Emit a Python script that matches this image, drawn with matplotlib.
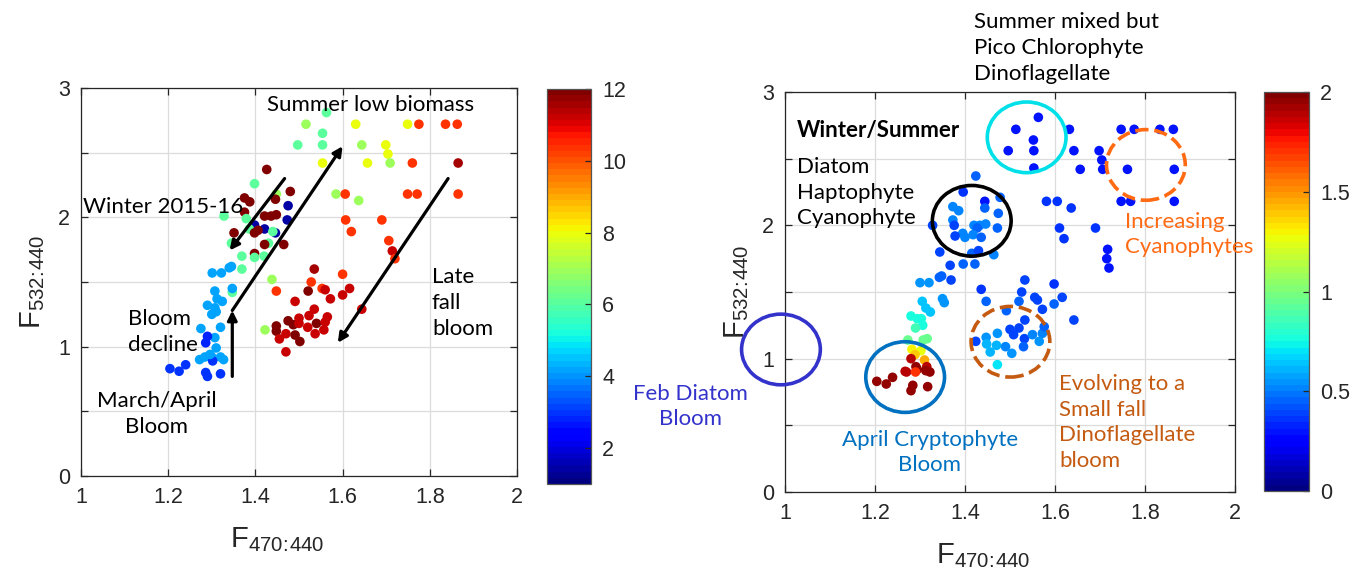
import matplotlib
matplotlib.use('Agg')
import matplotlib.pyplot as plt
import numpy as np
from matplotlib.patches import Ellipse
from matplotlib.ticker import FixedLocator, FuncFormatter

# ---- data ----
# left panel: colour = month
left_x = [1.563, 1.516, 1.630, 1.749, 1.775, 1.836, 1.863, 1.554, 1.497, 1.554,
          1.644, 1.699, 1.704, 1.554, 1.657, 1.709, 1.760, 1.865, 1.426, 1.398,
          1.480, 1.448, 1.375, 1.387, 1.446, 1.475, 1.585, 1.606, 1.637, 1.749,
          1.771, 1.865, 1.328, 1.375, 1.379, 1.421, 1.436, 1.448, 1.473, 1.398,
          1.421, 1.446, 1.386, 1.406, 1.398, 1.440, 1.351, 1.607, 1.690, 1.620,
          1.706, 1.714, 1.720, 1.345, 1.430, 1.421, 1.465, 1.398, 1.398, 1.369,
          1.420, 1.345, 1.340, 1.369, 1.301, 1.322, 1.438, 1.535, 1.600, 1.528,
          1.448, 1.521, 1.553, 1.560, 1.616, 1.600, 1.491, 1.572, 1.644, 1.535,
          1.523, 1.500, 1.475, 1.487, 1.500, 1.540, 1.565, 1.560, 1.557, 1.448,
          1.448, 1.470, 1.520, 1.537, 1.491, 1.502, 1.455, 1.470, 1.422, 1.347,
          1.307, 1.347, 1.312, 1.324, 1.290, 1.307, 1.300, 1.310, 1.275, 1.320,
          1.307, 1.290, 1.286, 1.310, 1.272, 1.284, 1.300, 1.320, 1.327, 1.302,
          1.204, 1.225, 1.240, 1.286, 1.290, 1.320, 1.296]
left_y = [2.81, 2.72, 2.72, 2.72, 2.72, 2.72, 2.72, 2.65, 2.56, 2.56,
          2.56, 2.56, 2.49, 2.42, 2.42, 2.42, 2.42, 2.42, 2.37, 2.26,
          2.20, 2.18, 2.15, 2.12, 2.14, 2.09, 2.18, 2.18, 2.13, 2.18,
          2.18, 2.18, 2.01, 2.04, 1.99, 2.01, 2.01, 2.02, 1.98, 1.94,
          1.91, 1.88, 1.91, 1.90, 1.88, 1.89, 1.88, 1.98, 1.98, 1.89,
          1.82, 1.74, 1.68, 1.80, 1.80, 1.79, 1.79, 1.72, 1.69, 1.70,
          1.70, 1.62, 1.61, 1.60, 1.57, 1.57, 1.52, 1.60, 1.56, 1.50,
          1.43, 1.43, 1.45, 1.44, 1.45, 1.40, 1.35, 1.37, 1.29, 1.29,
          1.24, 1.22, 1.20, 1.17, 1.18, 1.18, 1.23, 1.19, 1.13, 1.16,
          1.12, 1.10, 1.15, 1.10, 1.09, 1.04, 1.06, 0.96, 1.13, 1.42,
          1.43, 1.45, 1.37, 1.35, 1.32, 1.30, 1.25, 1.27, 1.14, 1.15,
          1.07, 1.08, 1.03, 0.99, 0.90, 0.92, 0.92, 0.92, 0.90, 0.89,
          0.83, 0.81, 0.86, 0.80, 0.77, 0.79, 0.94]
left_c = [6, 7, 8, 8, 10.3, 10.3, 10.3, 6, 6, 6,
          7, 8, 8, 8, 8, 7, 10.3, 11.5, 12, 6,
          12, 7, 12, 12, 12, 1.5, 7, 10.3, 7, 10.3,
          10.3, 10.3, 6, 12, 6, 12, 12, 12, 1.5, 1.5,
          1.5, 1.5, 6, 12, 12, 6, 12, 10.3, 10.3, 10.3,
          10.3, 11.3, 10.3, 6, 6, 12, 12, 12, 6, 6,
          6, 4.2, 4.2, 6, 4.2, 4.2, 7, 11.5, 10.3, 10.3,
          10.3, 12, 10.3, 11.3, 11.3, 11.3, 11.3, 11.3, 11.3, 11.3,
          11.3, 11.3, 12, 12, 11.3, 12, 11.3, 11.3, 11.3, 12,
          12, 11.3, 11.3, 11.3, 12, 12, 11.3, 11.3, 7, 6,
          4.2, 4.2, 4.2, 4.2, 4.2, 4.2, 4.2, 4.2, 4.2, 4.2,
          4.2, 2.8, 2.8, 4.2, 4.2, 4.2, 4.2, 4.2, 4.2, 3,
          3, 3, 3, 3, 3, 3, 4.2]

# right panel: colour = second index (0-2)
right_x = [1.563, 1.513, 1.552, 1.496, 1.553, 1.553, 1.632, 1.747, 1.776, 1.833,
           1.863, 1.642, 1.698, 1.704, 1.656, 1.706, 1.761, 1.865, 1.424, 1.396,
           1.444, 1.478, 1.581, 1.605, 1.636, 1.747, 1.768, 1.865, 1.373, 1.386,
           1.444, 1.474, 1.373, 1.376, 1.328, 1.420, 1.433, 1.446, 1.427, 1.472,
           1.395, 1.378, 1.400, 1.418, 1.436, 1.610, 1.690, 1.620, 1.717, 1.715,
           1.720, 1.344, 1.415, 1.430, 1.464, 1.367, 1.396, 1.422, 1.348, 1.343,
           1.369, 1.300, 1.320, 1.533, 1.598, 1.436, 1.526,
           1.447, 1.520, 1.555, 1.561, 1.572, 1.598, 1.616, 1.642, 1.305, 1.350,
           1.354, 1.313, 1.323, 1.280, 1.294, 1.303, 1.306, 1.290, 1.273, 1.307,
           1.316, 1.282, 1.302, 1.289, 1.310, 1.280, 1.291, 1.315, 1.294, 1.270,
           1.313, 1.322, 1.267, 1.290, 1.204, 1.225, 1.239, 1.284, 1.280, 1.317,
           1.492, 1.500, 1.520, 1.533, 1.472, 1.447, 1.448, 1.470, 1.490, 1.424,
           1.508, 1.532, 1.550, 1.572, 1.576, 1.530, 1.565, 1.456, 1.504, 1.472]
right_y = [2.81, 2.72, 2.64, 2.56, 2.56, 2.43, 2.72, 2.72, 2.72, 2.72,
           2.72, 2.56, 2.56, 2.49, 2.42, 2.42, 2.42, 2.42, 2.37, 2.25,
           2.18, 2.21, 2.18, 2.18, 2.13, 2.18, 2.18, 2.18, 2.14, 2.11,
           2.13, 2.09, 2.04, 2.00, 2.00, 2.00, 2.00, 2.01, 1.98, 1.98,
           1.94, 1.92, 1.91, 1.93, 1.91, 1.98, 1.98, 1.90, 1.82, 1.75,
           1.68, 1.80, 1.79, 1.81, 1.78, 1.70, 1.71, 1.71, 1.62, 1.61,
           1.59, 1.57, 1.57, 1.59, 1.56, 1.52, 1.50,
           1.43, 1.43, 1.46, 1.44, 1.37, 1.41, 1.46, 1.29, 1.43, 1.45,
           1.42, 1.38, 1.35, 1.32, 1.30, 1.30, 1.25, 1.23, 1.14, 1.14,
           1.15, 1.07, 1.06, 1.03, 0.99, 1.00, 0.94, 0.94, 0.92, 0.90,
           0.91, 0.90, 0.905, 0.90, 0.83, 0.81, 0.86, 0.80, 0.76, 0.79,
           1.36, 1.22, 1.23, 1.29, 1.19, 1.16, 1.11, 1.10, 1.09, 1.13,
           1.18, 1.15, 1.18, 1.19, 1.24, 1.09, 1.13, 1.05, 1.04, 0.955]
right_c = [0.3, 0.3, 0.3, 0.3, 0.3, 0.3, 0.3, 0.3, 0.3, 0.3,
           0.3, 0.3, 0.3, 0.3, 0.3, 0.3, 0.3, 0.3, 0.45, 0.35,
           0.3, 0.45, 0.35, 0.35, 0.35, 0.3, 0.3, 0.3, 0.5, 0.5,
           0.45, 0.45, 0.5, 0.4, 0.4, 0.5, 0.5, 0.5, 0.45, 0.45,
           0.5, 0.4, 0.5, 0.5, 0.45, 0.35, 0.35, 0.35, 0.3, 0.3,
           0.3, 0.4, 0.45, 0.4, 0.5, 0.4, 0.45, 0.45, 0.45, 0.45,
           0.4, 0.55, 0.55, 0.4, 0.35, 0.35, 0.4,
           0.45, 0.45, 0.4, 0.4, 0.4, 0.45, 0.4, 0.4, 0.65, 0.55,
           0.55, 0.65, 0.65, 0.75, 0.75, 0.75, 0.75, 0.85, 0.95, 0.95,
           0.95, 1.3, 1.25, 1.4, 1.45, 1.9, 1.95, 1.9, 1.95, 1.9,
           1.95, 1.95, 1.9, 1.7, 1.95, 1.95, 1.95, 1.95, 1.95, 1.95,
           0.45, 0.4, 0.4, 0.4, 0.55, 0.55, 0.6, 0.6, 0.5, 0.4,
           0.4, 0.4, 0.5, 0.5, 0.45, 0.45, 0.55, 0.6, 0.55, 0.7]

xticks = [1, 1.2, 1.4, 1.6, 1.8, 2]
yticks = [0, 0.5, 1, 1.5, 2, 2.5, 3]
cb_left_ticks = [2, 4, 6, 8, 10, 12]
cb_right_ticks = [0, 0.5, 1, 1.5, 2]

tick_font = 'Liberation Sans'
note_font = 'Lato'
note_size = 16
dark = '#262626'
cmap = plt.get_cmap('jet', 64)

fig = plt.figure(figsize=(13.65, 5.88), dpi=100)
ax1 = fig.add_axes([81/1365, 112/588, 436/1365, 388/588])
cax1 = fig.add_axes([547/1365, 104/588, 44/1365, 395/588])
ax2 = fig.add_axes([785/1365, 96/588, 450/1365, 400/588])
cax2 = fig.add_axes([1264/1365, 97/588, 45/1365, 399/588])


def style_axes(ax):
    ax.set_xlim(1, 2)
    ax.set_ylim(0, 3)
    ax.xaxis.set_major_locator(FixedLocator(xticks))
    ax.yaxis.set_major_locator(FixedLocator(yticks))
    ax.xaxis.set_major_formatter(FuncFormatter(lambda v, p: '%g' % v))
    ax.yaxis.set_major_formatter(FuncFormatter(lambda v, p: '%d' % v if v == int(v) else ''))
    ax.grid(True, color='#dcdcdc', lw=0.9)
    ax.set_axisbelow(True)
    ax.tick_params(direction='in', top=True, right=True, length=5, width=0.9,
                   color=dark, labelcolor=dark, labelsize=15.5, pad=8)
    for lab in ax.get_xticklabels() + ax.get_yticklabels():
        lab.set_family(tick_font)
    for sp in ax.spines.values():
        sp.set_color(dark)
        sp.set_linewidth(0.9)
    ax.set_xlabel(r'$\mathregular{F_{470\!:\!440}}$', fontsize=21, color=dark,
                  family=tick_font, labelpad=12)
    ax.set_ylabel(r'$\mathregular{F_{532\!:\!440}}$', fontsize=21, color=dark,
                  family=tick_font, labelpad=8)


def style_cbar(cb, ticks):
    cb.set_ticks(ticks)
    cb.ax.yaxis.set_major_formatter(FuncFormatter(lambda v, p: '%g' % v))
    cb.ax.tick_params(direction='in', length=4, width=0.9, color=dark,
                      labelcolor=dark, labelsize=15.5, pad=8)
    for lab in cb.ax.get_yticklabels():
        lab.set_family(tick_font)
    cb.outline.set_edgecolor('#555555')
    cb.outline.set_linewidth(0.9)


# ---- left panel ----
sc1 = ax1.scatter(left_x, left_y, c=left_c, cmap=cmap, vmin=1, vmax=12,
                  s=48, linewidths=0, zorder=3)
style_axes(ax1)
ax1.xaxis.label.set_position((0.45, 0))
cb1 = fig.colorbar(sc1, cax=cax1)
style_cbar(cb1, cb_left_ticks)

arr = dict(arrowstyle='-|>', lw=2.3, color='black', mutation_scale=14,
           shrinkA=0, shrinkB=0)
ax1.annotate('', xy=(1.341, 1.744), xytext=(1.467, 2.30), arrowprops=arr, zorder=4)
ax1.annotate('', xy=(1.600, 2.55), xytext=(1.347, 1.28), arrowprops=arr, zorder=4)
ax1.annotate('', xy=(1.347, 1.28), xytext=(1.347, 0.77), arrowprops=arr, zorder=4)
ax1.annotate('', xy=(1.589, 1.03), xytext=(1.842, 2.30), arrowprops=arr, zorder=4)

ax1.text(1.427, 2.868, 'Summer low biomass', family=note_font, fontsize=note_size,
         ha='left', va='center', zorder=5)
ax1.text(1.005, 2.08, 'Winter 2015-16', family=note_font, fontsize=note_size,
         ha='left', va='center', zorder=5)
ax1.text(1.805, 1.337, 'Late\nfall\nbloom', family=note_font, fontsize=note_size,
         ha='left', va='center', linespacing=1.35, zorder=5)
ax1.text(1.108, 1.113, 'Bloom\ndecline', family=note_font, fontsize=note_size,
         ha='left', va='center', linespacing=1.35, zorder=5)
ax1.text(1.174, 0.479, 'March/April\nBloom', family=note_font, fontsize=note_size,
         ha='center', va='center', linespacing=1.35, zorder=5)

# ---- right panel ----
sc2 = ax2.scatter(right_x, right_y, c=right_c, cmap=cmap, vmin=0, vmax=2,
                  s=48, linewidths=0, zorder=3)
style_axes(ax2)
ax2.xaxis.label.set_position((0.44, 0))
cb2 = fig.colorbar(sc2, cax=cax2)
style_cbar(cb2, cb_right_ticks)

ellipses = [
    ((1.537, 2.660), '#00e0e8', '-'),
    ((1.415, 2.034), 'black', '-'),
    ((1.802, 2.453), '#ff6a13', '--'),
    ((1.501, 1.127), '#c55a11', '--'),
    ((1.267, 0.862), '#0070c0', '-'),
    ((0.991, 1.069), '#3333cc', '-'),
]
for (cx, cy), col, ls in ellipses:
    ax2.add_patch(Ellipse((cx, cy), 0.175, 0.53, fill=False, ec=col, lw=2.6,
                          ls=ls, clip_on=False, zorder=4))

ax2.text(1.42, 3.33, 'Summer mixed but\nPico Chlorophyte\nDinoflagellate',
         family=note_font, fontsize=note_size, ha='left', va='center',
         linespacing=1.35)
ax2.text(1.027, 2.715, 'Winter/Summer', family=note_font, fontsize=note_size,
         fontweight='bold', ha='left', va='center', zorder=5)
ax2.text(1.027, 2.246, 'Diatom\nHaptophyte\nCyanophyte', family=note_font,
         fontsize=note_size, ha='left', va='center', linespacing=1.35, zorder=5)
ax2.text(1.756, 1.931, 'Increasing\nCyanophytes', family=note_font, fontsize=note_size,
         color='#ff6a13', ha='left', va='center', linespacing=1.35, zorder=5)
ax2.text(0.789, 0.641, 'Feb Diatom\nBloom', family=note_font, fontsize=note_size,
         color='#3333cc', ha='center', va='center', linespacing=1.35)
ax2.text(1.322, 0.296, 'April Cryptophyte\nBloom', family=note_font, fontsize=note_size,
         color='#0070c0', ha='center', va='center', linespacing=1.35, zorder=5)
ax2.text(1.609, 0.521, 'Evolving to a\nSmall fall\nDinoflagellate\nbloom',
         family=note_font, fontsize=note_size, color='#c55a11', ha='left',
         va='center', linespacing=1.35, zorder=5)

fig.savefig('out.png', dpi=100)
